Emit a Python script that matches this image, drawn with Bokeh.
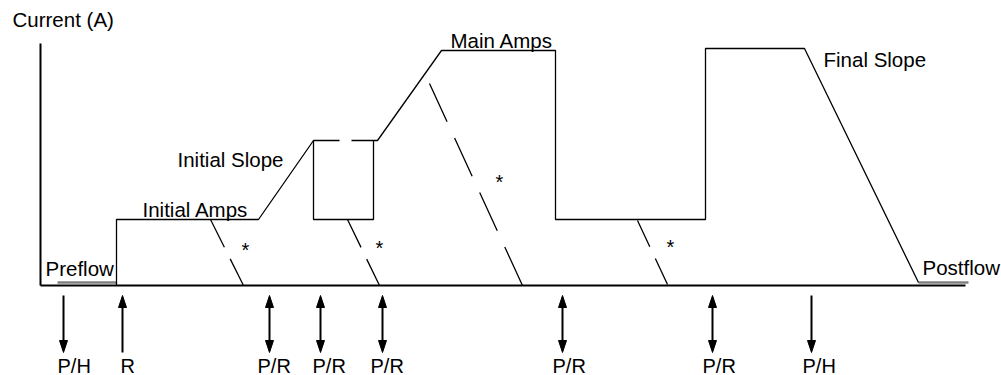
from bokeh.plotting import figure
from bokeh.models import Range1d
from bokeh.core.properties import value
from bokeh.embed import file_html
from bokeh.resources import INLINE

# ---- diagram data (time units along x, current units along y; 0 = baseline) ----
# main current waveform, drawn as two pieces (small gap in the top of the box)
wave_a_t = [76, 76, 218, 273, 299]
wave_a_i = [0, 66, 66, 145, 145]
wave_b_t = [311, 337, 401, 515, 515, 665, 665, 764, 878]
wave_b_i = [145, 145, 235, 235, 66, 66, 237, 237, 3]
# alternative path box under the initial slope top
box_t = [273, 273, 333, 333]
box_i = [145, 66, 66, 145]
# preflow / postflow levels
pre_t = [17, 76]
pre_i = [3, 3]
post_t = [878, 928]
post_i = [3, 3]
# dashed downslopes (start t, start i, end t, end i, dash pattern)
slope_t0 = [170, 307, 389, 597]
slope_i0 = [66, 66, 202, 65]
slope_t1 = [203, 339, 482, 627]
slope_i1 = [0, 0, 0, 1]
slope_dash = ["31 13", "31 13", "42 18", "29 13"]
star_t = [205, 339, 459, 630]
star_i = [38, 40, 106, 41]
# axes
axis_t_end = 925
axis_i_top = 242
# labels
lab_text = ["Current (A)", "Preflow", "Initial Amps", "Initial Slope",
            "Main Amps", "Final Slope", "Postflow"]
lab_t = [-28, 5, 102, 137, 410, 783, 882]
lab_i = [266, 17, 76, 126, 245, 226, 18]
# switch-event arrows below the time axis
arrow_t = [23, 82, 229, 280, 342, 522, 672, 771]
arrow_kind = ["down", "up", "both", "both", "both", "both", "both", "down"]
arrow_top = -10
arrow_bot = -67
ev_text = ["P/H", "R", "P/R", "P/R", "P/R", "P/R", "P/R", "P/H"]
ev_t = [17, 80, 217, 272, 330, 512, 662, 762]
ev_i = -80

FONT = value("Liberation Sans")
FS = "20.5px"

p = figure(width=1001, height=375, output_backend="svg", toolbar_location=None,
           x_range=Range1d(-40, 961), y_range=Range1d(-90, 285), min_border=0)
p.axis.visible = False
p.grid.visible = False
p.outline_line_color = None
p.background_fill_color = "white"
p.border_fill_color = "white"

# axes lines
p.line([0, axis_t_end], [0, 0], line_color="black", line_width=2)
p.line([0, 0], [0, axis_i_top], line_color="black", line_width=2)

# levels
p.line(pre_t, pre_i, line_color="#808080", line_width=2.5)
p.line(post_t, post_i, line_color="#808080", line_width=2.5)

# waveform
p.line(wave_a_t, wave_a_i, line_color="black", line_width=1.3)
p.line(wave_b_t, wave_b_i, line_color="black", line_width=1.3)
p.line(box_t, box_i, line_color="black", line_width=1.3)

# dashed slopes
for t0, i0, t1, i1, d in zip(slope_t0, slope_i0, slope_t1, slope_i1, slope_dash):
    p.line([t0, t1], [i0, i1], line_color="black", line_width=1.3, line_dash=d)

# asterisks
p.text(x=star_t, y=[v - 2 for v in star_i], text=["*"] * len(star_t),
       text_font=FONT, text_font_size="20px", text_align="center",
       text_baseline="alphabetic", text_color="black")

# labels
p.text(x=lab_t, y=lab_i, text=lab_text, text_font=FONT, text_font_size=FS,
       text_align="left", text_baseline="alphabetic", text_color="black")

# arrows
HL, HW = 12, 4
xs0, ys0, xs1, ys1 = [], [], [], []
hx, hy = [], []
for t, k in zip(arrow_t, arrow_kind):
    top, bot = arrow_top, arrow_bot
    if k in ("up", "both"):
        hx.append([t, t - HW, t + HW]); hy.append([top, top - HL, top - HL])
        top = top - HL + 2
    if k in ("down", "both"):
        hx.append([t, t - HW, t + HW]); hy.append([bot, bot + HL, bot + HL])
        bot = bot + HL - 2
    xs0.append(t); ys0.append(top); xs1.append(t); ys1.append(bot)
p.segment(x0=xs0, y0=ys0, x1=xs1, y1=ys1, line_color="black", line_width=2)
p.patches(hx, hy, fill_color="black", line_color="black", line_width=1)

p.text(x=ev_t, y=[ev_i] * len(ev_t), text=ev_text, text_font=FONT,
       text_font_size="20px", text_align="left", text_baseline="alphabetic",
       text_color="black")

open("out.html", "w").write(file_html(p, INLINE))
